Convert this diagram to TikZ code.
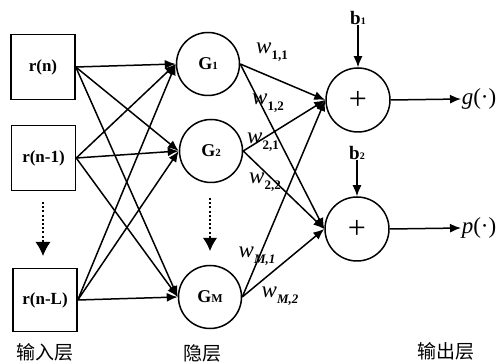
\documentclass[tikz,border=0pt]{standalone}
\usepackage{fontspec}
\setmainfont{Liberation Serif}
\newfontfamily\cjk{Noto Sans CJK SC}
\usetikzlibrary{arrows.meta}
\newcommand{\wsub}[2]{\textit{w}\raisebox{-6pt}{\fontsize{13}{13}\selectfont\bfseries #1#2}}
\begin{document}
\begin{tikzpicture}[x=1pt,y=-1pt,line width=1.5pt,
  box/.style={draw,rectangle,minimum width=64pt,minimum height=65pt,inner sep=0pt,
    font=\fontsize{17}{17}\selectfont\bfseries},
  neuron/.style={draw,circle,minimum size=63pt,inner sep=0pt,
    font=\fontsize{18}{18}\selectfont\bfseries},
  sumnode/.style={draw,circle,minimum size=64pt,inner sep=0pt,
    font=\fontsize{32}{32}\selectfont},
  arr/.style={-{Latex[length=11pt,width=9pt]}},
  dotarr/.style={line width=2.6pt,dash pattern=on 2pt off 2.2pt},
  wlab/.style={inner sep=0pt,font=\fontsize{23}{23}\selectfont},
  lab/.style={inner sep=0pt,font=\fontsize{19}{19}\selectfont\cjk},
  outlab/.style={inner sep=0pt,anchor=west,font=\fontsize{23}{23}\selectfont}]
\useasboundingbox (0,0) rectangle (501,363);
\fill[white] (0,0) rectangle (501,363);
% input boxes
\node[box] (r1) at (43,67) {r(n)};
\node[box] (r2) at (43.5,158) {r(n-1)};
\node[box,minimum height=63pt] (rL) at (45,300) {r(n-L)};
% hidden
\node[neuron] (G1) at (208,64) {G{\fontsize{11}{11}\selectfont 1}};
\node[neuron] (G2) at (211,151) {G{\fontsize{11}{11}\selectfont 2}};
\node[neuron] (GM) at (210,297) {G{\fontsize{12}{12}\selectfont M}};
% output sums
\node[sumnode] (S1) at (358,100) {+};
\node[sumnode] (S2) at (357,229) {+};
% biases
\node[inner sep=0pt,font=\fontsize{19}{19}\selectfont\bfseries] (b1) at (358,18) {b{\fontsize{10}{10}\selectfont 1}};
\node[inner sep=0pt,font=\fontsize{19}{19}\selectfont\bfseries] (b2) at (357,153) {b{\fontsize{10}{10}\selectfont 2}};
\draw[arr] (b1.south) -- (S1.north);
\draw[arr] (b2.south) -- (S2.north);
% outputs
\node[outlab] (g) at (461,99) {\textit{g}(\textperiodcentered)};
\node[outlab] (p) at (461,228) {\textit{p}(\textperiodcentered)};
\draw[arr] (S1.east) -- (g.west);
\draw[arr] (S2.east) -- (p.west);
% input to hidden
\foreach \s in {r1,r2,rL}{
  \foreach \t in {G1,G2,GM}{
    \draw[arr] (\s.east) -- (\t.west);
  }
}
% hidden to output
\foreach \s in {G1,G2,GM}{
  \draw[arr] (\s.east) -- (S1.west);
  \draw[arr] (\s.east) -- (S2.west);
}
% weight labels
\node[wlab] (w11) at (272,52) {\wsub{}{1,1}};
\node[wlab] (w12) at (268,103) {\wsub{}{1,2}};
\node[wlab] (w21) at (263,142) {\wsub{}{2,1}};
\node[wlab] (w22) at (265,182) {\wsub{}{2,2}};
\node[wlab] (wM1) at (257,256) {\wsub{\itshape M}{,1}};
\node[wlab] (wM2) at (280,296) {\wsub{\itshape M}{,2}};
% dotted arrows
\coordinate (d1a) at (43,202);
\coordinate (d1b) at (43,256);
\coordinate (d2a) at (210,198);
\coordinate (d2b) at (210,251);
\draw[dotarr] (d1a) -- ([yshift=14pt]d1b);
\draw[line width=1pt,-{Latex[length=14pt,width=15pt]}] ([yshift=14pt]d1b) -- (d1b);
\draw[dotarr] (d2a) -- ([yshift=13pt]d2b);
\draw[line width=1pt,-{Latex[length=13pt,width=14pt]}] ([yshift=13pt]d2b) -- (d2b);
% layer labels
\node[lab] (L1) at (45,352) {输入层};
\node[lab] (L2) at (202,353) {隐层};
\node[lab] (L3) at (446,351) {输出层};
\end{tikzpicture}
\end{document}
